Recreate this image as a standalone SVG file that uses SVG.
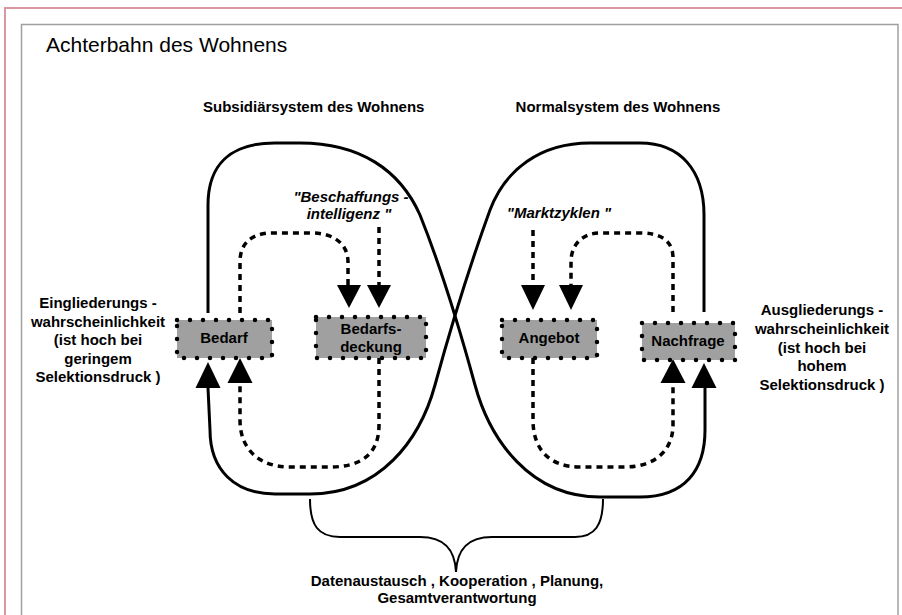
<svg xmlns="http://www.w3.org/2000/svg" width="902" height="615" viewBox="0 0 902 615">
<defs>
<style>
.t{font-family:"Liberation Sans",Arial,sans-serif;fill:#000}
.b{font-weight:bold;font-size:15px}
.c{text-anchor:middle}
.i{font-style:italic}
.solid{fill:none;stroke:#000;stroke-width:3}
.dash{fill:none;stroke:#000;stroke-width:3.5;stroke-dasharray:6 5}
.box{fill:#a0a0a0;stroke:#000;stroke-width:4.5;stroke-dasharray:0 13;stroke-linecap:round}
.arr{fill:#000}
</style>
</defs>
<rect x="0" y="0" width="902" height="615" fill="#fff"/>
<line x1="4" y1="8" x2="902" y2="8" stroke="#dc96a0" stroke-width="2"/>
<line x1="5" y1="8" x2="5" y2="615" stroke="#dc96a0" stroke-width="2"/>
<rect x="21.5" y="24.5" width="876.5" height="600" fill="none" stroke="#a0a0a0" stroke-width="1.5"/>

<text class="t" x="46" y="52" font-size="21">Achterbahn des Wohnens</text>
<text class="t b" x="203" y="112">Subsidiärsystem des Wohnens</text>
<text class="t b c" x="618" y="112">Normalsystem des Wohnens</text>

<g id="connectors">
<path class="solid" d="M208 313 L208 205 C208 165 230 143 275 143 L300 143 C360 143 400 170 420 215 C440 265 460 330 475 385 C490 440 530 497 600 497 L640 497 C685 497 705 470 705 430 L705 388"/>
<path class="solid" d="M704 312 L704 215 C704 170 680 143 640 143 L590 143 C540 143 505 170 490 210 C470 265 450 330 435 385 C420 440 380 494 310 494 L275 494 C235 494 210 470 210 430 L208 388"/>
<path class="dash" d="M240 313 L240 262 C240 243 252 233 272 233 L312 233 C335 233 348 245 348 262 L348 285"/>
<path class="dash" d="M379 227 L379 285"/>
<path class="dash" d="M379 358 L379 425 C379 455 360 467 330 467 L290 467 C260 467 240 450 240 420 L240 383"/>
<path class="dash" d="M533 230 L533 285"/>
<path class="dash" d="M673 312 L673 258 C673 240 660 233 640 233 L600 233 C582 233 571 245 571 262 L571 285"/>
<path class="dash" d="M533 358 L533 420 C533 450 550 467 580 467 L625 467 C655 467 673 450 673 425 L673 383"/>
<polygon class="arr" points="208,362 195.5,388 220.5,388"/>
<polygon class="arr" points="240,358 227.5,383 252.5,383"/>
<polygon class="arr" points="349,308 337,285 361,285"/>
<polygon class="arr" points="379,308 367,285 391,285"/>
<polygon class="arr" points="533,310 521,285 545,285"/>
<polygon class="arr" points="571,310 559,285 583,285"/>
<polygon class="arr" points="673,359 660.5,383 685.5,383"/>
<polygon class="arr" points="704,363 691.5,388 716.5,388"/>
<path fill="none" stroke="#000" stroke-width="2" d="M310 499 C310 525 318 537 340 537 L420 537 C445 537 455 550 456 572 C457 550 467 537 492 537 L575 537 C595 537 603 525 603 499"/>
</g>

<g id="bedarf">
<rect class="box" x="177" y="320" width="95" height="38"/>
<text class="t b c" x="224" y="343">Bedarf</text>
</g>
<g id="bedarfsdeckung">
<rect class="box" x="316" y="317" width="110" height="41"/>
<text class="t b c" x="371" y="334">Bedarfs-</text>
<text class="t b c" x="371" y="352">deckung</text>
</g>
<g id="angebot">
<rect class="box" x="502" y="320" width="95" height="38"/>
<text class="t b c" x="549" y="343">Angebot</text>
</g>
<g id="nachfrage">
<rect class="box" x="642" y="323" width="93" height="37"/>
<text class="t b c" x="688" y="346">Nachfrage</text>
</g>

<g id="beschaffung">
<text class="t b c i" x="351" y="202">"Beschaffungs -</text>
<text class="t b c i" x="349" y="219">intelligenz "</text>
</g>
<g id="marktzyklen">
<text class="t b c i" x="559" y="218">"Marktzyklen "</text>
</g>
<g id="eingliederung">
<text class="t b c" x="98" y="308">Eingliederungs -</text>
<text class="t b c" x="98" y="327">wahrscheinlichkeit</text>
<text class="t b c" x="98" y="345">(ist hoch bei</text>
<text class="t b c" x="98" y="364">geringem</text>
<text class="t b c" x="98" y="382">Selektionsdruck )</text>
</g>
<g id="ausgliederung">
<text class="t b c" x="822" y="315">Ausgliederungs -</text>
<text class="t b c" x="822" y="334">wahrscheinlichkeit</text>
<text class="t b c" x="822" y="353">(ist hoch bei</text>
<text class="t b c" x="822" y="371">hohem</text>
<text class="t b c" x="822" y="390">Selektionsdruck )</text>
</g>
<g id="gemeinsam">
<text class="t b c" x="457" y="586">Datenaustausch , Kooperation , Planung,</text>
<text class="t b c" x="457" y="603">Gesamtverantwortung</text>
</g>
</svg>
